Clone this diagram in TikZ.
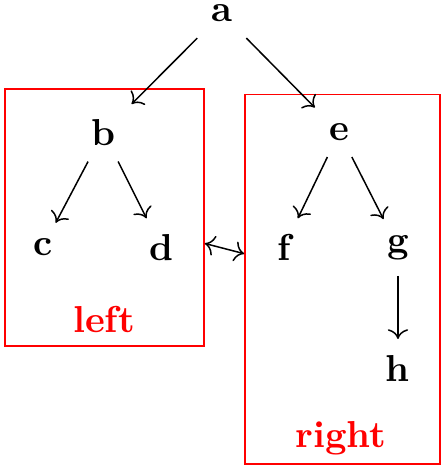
\documentclass[tikz,border=0pt]{standalone}
\usepackage[usenames,dvipsnames]{xcolor}
\usepackage{tkz-graph}
\usetikzlibrary{arrows,arrows.meta}

\begin{document}
\begin{tikzpicture}[>={To[width=5.4pt,length=2.6pt]}]
  \useasboundingbox (0,0) rectangle (4.18,4.405);
  \tikzset{VertexStyle/.style = {shape     = rectangle,
                                 draw      = none,
                                 inner sep = 4.3pt,
                                 font      = \bfseries}}
  \tikzset{GroupStyle/.style  = {shape     = rectangle,
                                 draw      = red,
                                 line width= 0.4pt,
                                 inner sep = 0pt}}
  \tikzset{GroupLabel/.style  = {text = red, font = \bfseries}}
  \SetUpEdge[lw    = 0.4pt,
             color = black]

% level 0
\Vertex[x=2.08, y=4.28]{a}

% level 1
\Vertex[x=0.97, y=3.165]{b}
\Vertex[x=3.18, y=3.165]{e}

% level 2
\Vertex[x=0.40, y=2.085]{c}
\Vertex[x=1.51, y=2.085]{d}
\Vertex[x=2.66, y=2.085]{f}
\Vertex[x=3.73, y=2.085]{g}

% level 3
\Vertex[x=3.73, y=0.955]{h}

% groups
\node[GroupStyle, minimum width=1.865cm, minimum height=2.409cm]
  (leftgroup) at (0.9794,2.3664) {};
\node[GroupStyle, minimum width=1.828cm, minimum height=3.465cm]
  (rightgroup) at (3.210,1.789) {};
\node[GroupLabel] (leftname) at (0.975,1.415) {left};
\node[GroupLabel] (rightname) at (3.196,0.297) {right};

\tikzset{EdgeStyle/.style={->, line width=0.4pt}}

\Edges(a, b)
\Edges(a, e)
\Edges(b, c)
\Edges(b, d)
\Edges(e, f)
\Edges(e, g)
\Edges(g, h)

\draw[<->] (leftgroup) -- (rightgroup);

\end{tikzpicture}
\end{document}
